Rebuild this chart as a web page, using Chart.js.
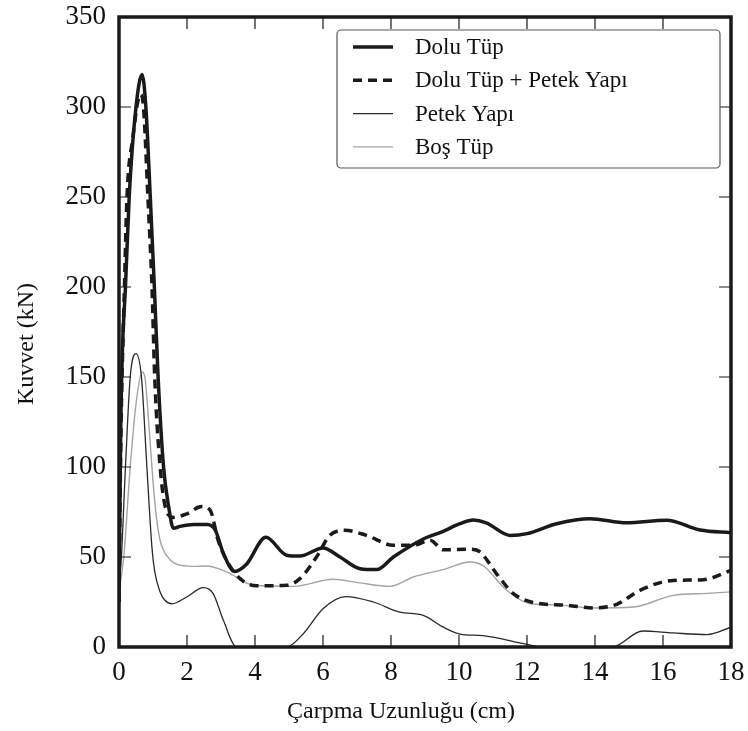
<!DOCTYPE html>
<html lang="tr">
<head>
<meta charset="UTF-8">
<title>Kuvvet - Çarpma Uzunluğu</title>
<script src="https://cdn.jsdelivr.net/npm/chart.js"></script>
<style>
  body { margin: 0; background: #fff; }
  #wrap { width: 748px; height: 731px; }
</style>
</head>
<body>
<div id="wrap"><canvas id="forceChart" width="748" height="731"></canvas></div>
<script>
// values (x in cm, y in kN)
const seriesNames = ['Dolu Tüp', 'Dolu Tüp + Petek Yapı', 'Petek Yapı', 'Boş Tüp'];

const doluX = [0, 0.05, 0.1, 0.19, 0.3, 0.5, 0.68, 0.79, 0.92, 1.04, 1.15, 1.31, 1.46, 1.6, 1.8, 2.2, 2.6, 2.83, 3.07, 3.4, 3.75, 4.32, 4.93, 5.32, 6.0, 6.5, 7.09, 7.58, 8.07, 8.95, 9.5, 10.03, 10.42, 10.8, 11.5, 12.0, 12.87, 13.85, 14.93, 16.1, 17.09, 18];
const doluY = [25, 120, 165, 200, 250, 300, 318, 300, 250, 200, 150, 100, 78, 66, 67, 68, 68, 65, 52, 42, 46, 61, 51, 50.5, 55, 50, 43.5, 43, 50, 60, 64, 68.5, 70.5, 69, 62, 63, 68.5, 71.3, 69, 70.4, 65, 63.5];

const doluPetekX = [0, 0.05, 0.16, 0.235, 0.4, 0.63, 0.72, 0.85, 0.97, 1.05, 1.21, 1.36, 1.6, 2.0, 2.43, 2.68, 2.92, 3.17, 3.56, 4.05, 4.93, 5.32, 5.81, 6.2, 6.65, 7.28, 8.07, 8.65, 9.15, 9.54, 10.32, 10.62, 11.1, 11.6, 12.19, 13.17, 13.95, 14.64, 15.32, 16.3, 17.19, 18];
const doluPetekY = [25, 110, 200, 250, 282, 307, 300, 250, 200, 150, 100, 78, 72, 74, 78, 76, 59, 48, 38, 34, 34.3, 38, 50, 62, 64.8, 62, 56.5, 56.5, 59.3, 54, 54.3, 52.8, 40.8, 29.7, 24.7, 23.2, 21.7, 23.7, 31.5, 37, 37.4, 42.6];

const petekX = [0, 0.07, 0.19, 0.33, 0.5, 0.66, 0.82, 0.97, 1.05, 1.2, 1.35, 1.56, 1.99, 2.48, 2.77, 3.07, 3.46, 4.93, 5.42, 6.0, 6.67, 7.48, 8.26, 8.95, 9.54, 10.03, 10.7, 11.9, 12.4, 14.5, 15.4, 16.3, 17.3, 18];
const petekY = [35, 50, 100, 150, 163, 150, 100, 55, 42, 31, 26, 24, 27.8, 33, 29.7, 14.8, 0, 0, 7.4, 21.3, 28, 25, 19.4, 17.6, 11, 7.2, 6.3, 1.9, 0, 0, 8.9, 7.8, 6.9, 11];

const bosX = [0, 0.14, 0.33, 0.5, 0.68, 0.76, 0.9, 1.0, 1.1, 1.2, 1.3, 1.5, 1.7, 2.19, 2.58, 3.17, 3.95, 5.13, 6.3, 7.09, 7.97, 8.66, 9.54, 10.32, 10.72, 11.4, 12.09, 12.87, 13.95, 15.13, 16.3, 17.3, 18];
const bosY = [30, 50, 100, 135, 152.8, 150, 118, 92, 72, 60, 54, 48.5, 46, 44.8, 45, 41.7, 34.3, 33.7, 37.6, 35.6, 33.7, 38.9, 43, 47.2, 45, 31.5, 24, 23.4, 21.7, 22.2, 28.7, 29.8, 30.6];

const xTicks = [0, 2, 4, 6, 8, 10, 12, 14, 16, 18];
const yTicks = [0, 50, 100, 150, 200, 250, 300, 350];

const serif = "'Liberation Serif', 'DejaVu Serif', serif";
const pts = (xs, ys) => xs.map((x, i) => ({ x: x, y: ys[i] }));

// frame + inward ticks on all four sides
const framePlugin = {
  id: 'framePlugin',
  afterDatasetsDraw(chart) {
    const { ctx, chartArea: a, scales } = chart;
    const len = 12;
    ctx.save();
    ctx.strokeStyle = '#1a1a1a';
    ctx.lineWidth = 1.2;
    ctx.beginPath();
    scales.x.ticks.forEach(t => {
      if (t.value <= 0 || t.value >= 18) return;
      const px = scales.x.getPixelForValue(t.value);
      ctx.moveTo(px, a.bottom); ctx.lineTo(px, a.bottom - len);
      ctx.moveTo(px, a.top); ctx.lineTo(px, a.top + len);
    });
    scales.y.ticks.forEach(t => {
      if (t.value <= 0 || t.value >= 350) return;
      const py = scales.y.getPixelForValue(t.value);
      ctx.moveTo(a.left, py); ctx.lineTo(a.left + len, py);
      ctx.moveTo(a.right, py); ctx.lineTo(a.right - len, py);
    });
    ctx.stroke();
    ctx.lineWidth = 3.5;
    ctx.strokeRect(a.left, a.top, a.right - a.left, a.bottom - a.top);
    ctx.restore();
  },
  afterDraw(chart) {
    // boxed legend in the upper right corner
    const { ctx, chartArea: a } = chart;
    const bx = a.right - 394, by = a.top + 13, bw = 383, bh = 138;
    ctx.save();
    ctx.fillStyle = '#fff';
    ctx.strokeStyle = '#555';
    ctx.lineWidth = 1.2;
    ctx.beginPath();
    ctx.roundRect(bx, by, bw, bh, 4);
    ctx.fill();
    ctx.stroke();
    ctx.font = '23px ' + serif;
    ctx.textBaseline = 'middle';
    chart.data.datasets.forEach((ds, i) => {
      const cy = by + 17 + i * 33.3;
      ctx.strokeStyle = ds.borderColor;
      ctx.lineWidth = ds.borderWidth;
      ctx.setLineDash(ds.borderDash || []);
      ctx.beginPath();
      ctx.moveTo(bx + 16, cy);
      ctx.lineTo(bx + 56, cy);
      ctx.stroke();
      ctx.setLineDash([]);
      ctx.fillStyle = '#111';
      ctx.fillText(ds.label, bx + 78, cy + 1);
    });
    ctx.restore();
  }
};

const lineDefaults = { pointRadius: 0, fill: false, cubicInterpolationMode: 'monotone' };

new Chart(document.getElementById('forceChart').getContext('2d'), {
  type: 'line',
  data: {
    datasets: [
      Object.assign({ label: seriesNames[0], data: pts(doluX, doluY), borderColor: '#1a1a1a', borderWidth: 3.5 }, lineDefaults),
      Object.assign({ label: seriesNames[1], data: pts(doluPetekX, doluPetekY), borderColor: '#1a1a1a', borderWidth: 3.5, borderDash: [9, 6] }, lineDefaults),
      Object.assign({ label: seriesNames[2], data: pts(petekX, petekY), borderColor: '#2a2a2a', borderWidth: 1.3 }, lineDefaults),
      Object.assign({ label: seriesNames[3], data: pts(bosX, bosY), borderColor: '#a3a3a3', borderWidth: 1.4 }, lineDefaults)
    ]
  },
  options: {
    responsive: false,
    animation: false,
    layout: { padding: { top: 17, right: 17, left: 0, bottom: 0 } },
    plugins: { legend: { display: false }, tooltip: { enabled: false } },
    scales: {
      x: {
        type: 'linear',
        min: 0, max: 18,
        afterBuildTicks: s => { s.ticks = xTicks.map(v => ({ value: v })); },
        afterFit: s => { s.height = 84; s.paddingLeft = 0; s.paddingRight = 0; },
        grid: { display: false, tickLength: 0 },
        border: { display: false },
        ticks: { color: '#111', padding: 10, maxRotation: 0, font: { family: serif, size: 27 } },
        title: {
          display: true,
          text: 'Çarpma Uzunluğu (cm)\u00a0\u00a0\u00a0\u00a0\u00a0\u00a0\u00a0\u00a0',
          color: '#111',
          padding: { top: 0, bottom: 5 },
          font: { family: serif, size: 24 }
        }
      },
      y: {
        min: 0, max: 350,
        afterBuildTicks: s => { s.ticks = yTicks.map(v => ({ value: v })); },
        afterFit: s => { s.width = 119; s.paddingTop = 0; s.paddingBottom = 0; },
        grid: { display: false, tickLength: 0 },
        border: { display: false },
        ticks: { color: '#111', padding: 13, font: { family: serif, size: 27 } },
        title: {
          display: true,
          text: 'Kuvvet (kN)\u00a0\u00a0\u00a0\u00a0',
          color: '#111',
          padding: { top: 12, bottom: 0 },
          font: { family: serif, size: 24 }
        }
      }
    }
  },
  plugins: [framePlugin]
});
</script>
</body>
</html>
